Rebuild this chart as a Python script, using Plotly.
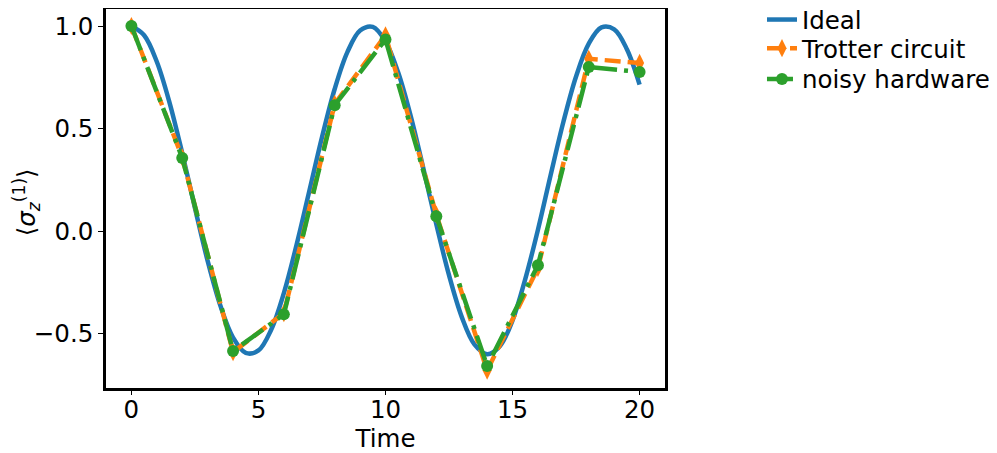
import plotly.graph_objects as go

t_ideal = [0.0, 0.5, 1.0, 1.5, 2.0, 2.5, 3.0, 3.5, 4.0, 4.5, 5.0, 5.5, 6.0, 6.5, 7.0, 7.5,
           8.0, 8.5, 9.0, 9.5, 10.0, 10.5, 11.0, 11.5, 12.0, 12.5, 13.0, 13.5, 14.0, 14.5,
           15.0, 15.5, 16.0, 16.5, 17.0, 17.5, 18.0, 18.5, 19.0, 19.5, 20.0]
ideal = [1.0, 0.955, 0.826, 0.627, 0.380, 0.113, -0.145, -0.363, -0.519, -0.594, -0.582,
         -0.481, -0.302, -0.067, 0.194, 0.457, 0.693, 0.873, 0.978, 0.996, 0.925, 0.773,
         0.557, 0.300, 0.033, -0.215, -0.418, -0.552, -0.600, -0.561, -0.435, -0.234,
         0.007, 0.274, 0.532, 0.754, 0.914, 0.993, 0.984, 0.887, 0.714]

# Trotter circuit and noisy hardware points
t_steps = [0, 2, 4, 6, 8, 10, 12, 14, 16, 18, 20]
trotter = [1.0, 0.36, -0.59, -0.40, 0.62, 0.955, 0.08, -0.68, -0.18, 0.84, 0.82]
noisy = [1.0, 0.357, -0.585, -0.406, 0.614, 0.934, 0.073, -0.658, -0.166, 0.80, 0.776]

x_ticks = [0, 5, 10, 15, 20]
x_ticklabels = ["0", "5", "10", "15", "20"]
y_ticks = [-0.5, 0.0, 0.5, 1.0]
y_ticklabels = ["\u22120.5", "0.0", "0.5", "1.0"]
y_title = "\u27e8<i>σ</i><sub><i>z</i></sub><sup>(1)</sup>\u27e9"

FONT = "DejaVu Sans"
FS = 24.5

fig = go.Figure()
fig.add_trace(go.Scatter(
    x=t_ideal, y=ideal, mode="lines", name="Ideal", legend="legend",
    line=dict(color="#1f77b4", width=4.5, shape="spline")))
fig.add_trace(go.Scatter(
    x=t_steps, y=trotter, mode="lines+markers", name="Trotter circuit", legend="legend2",
    line=dict(color="#ff7f0e", width=4.5, dash="16px,7px"),
    marker=dict(symbol="diamond-tall", size=13, color="#ff7f0e")))
fig.add_trace(go.Scatter(
    x=t_steps, y=noisy, mode="lines+markers", name="noisy hardware", legend="legend3",
    line=dict(color="#2ca02c", width=4.5, dash="26px,7px,4px,7px"),
    marker=dict(symbol="circle", size=12, color="#2ca02c")))

leg_common = dict(x=1.1735, xanchor="left", yanchor="middle",
                  font=dict(family=FONT, size=FS), bgcolor="rgba(0,0,0,0)", borderwidth=0)

fig.update_layout(
    width=989, height=445,
    margin=dict(l=98, r=332, t=1, b=65, autoexpand=False),
    paper_bgcolor="white", plot_bgcolor="white",
    font=dict(family=FONT, size=FS, color="black"),
    showlegend=True,
    legend=dict(y=0.972, **leg_common),
    legend2=dict(y=0.8964, **leg_common),
    legend3=dict(y=0.8153, **leg_common),
)
fig.add_annotation(
    text=y_title, xref="paper", yref="paper", x=0, y=0.49,
    xanchor="center", yanchor="middle", xshift=-80, textangle=-90,
    showarrow=False, font=dict(family=FONT, size=FS, color="black"))
fig.update_xaxes(
    range=[-1, 21], tickvals=x_ticks, ticktext=x_ticklabels, automargin=False,
    showgrid=False, zeroline=False, showline=True, linecolor="black", linewidth=2.5,
    mirror=True, ticks="outside", ticklen=4, tickwidth=1.2, tickcolor="black",
    ticklabelstandoff=-6,
    title=dict(text="Time", font=dict(family=FONT, size=FS), standoff=13))
fig.update_yaxes(
    range=[-0.765, 1.083], tickvals=y_ticks, ticktext=y_ticklabels, automargin=False,
    showgrid=False, zeroline=False, showline=True, linecolor="black", linewidth=2.5,
    mirror=True, ticks="outside", ticklen=5, tickwidth=1.2, tickcolor="black")

fig.write_html("out.html")
